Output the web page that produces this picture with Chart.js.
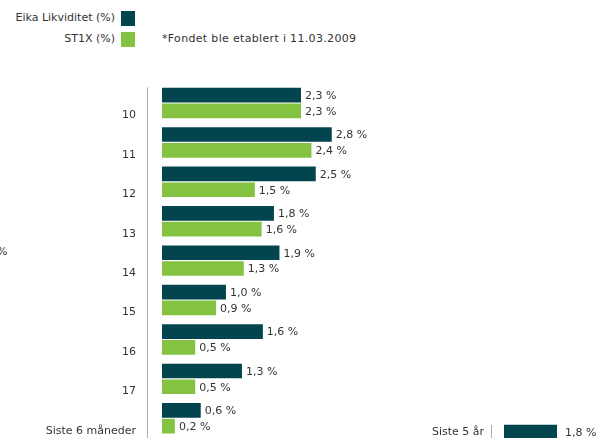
<!DOCTYPE html>
<html>
<head>
<meta charset="utf-8">
<script src="https://cdn.jsdelivr.net/npm/chart.js@4"></script>
<style>
    html,body{margin:0;padding:0;width:597px;height:438px;overflow:hidden;background:#fff;
        font-family:"DejaVu Sans",sans-serif;font-size:11px;color:#333}
    .abs{position:absolute}
    .swatch{position:absolute;width:14px;height:15px}
    .lbl{position:absolute;line-height:14px;white-space:nowrap}
</style>
</head>
<body>

<!-- legend -->
<div class="lbl" style="left:0;width:115px;text-align:right;top:11px">Eika Likviditet (%)</div>
<div class="swatch" style="left:121px;top:11px;background:#02454f"></div>
<div class="lbl" style="left:0;width:115px;text-align:right;top:32px">ST1X (%)</div>
<div class="swatch" style="left:121px;top:32px;background:#84c341"></div>
<div class="lbl" style="left:162px;top:32px;letter-spacing:0.33px">*Fondet ble etablert i 11.03.2009</div>
<div class="lbl" style="left:-3px;top:245px">%</div>

<div class="abs" style="left:0;top:0;width:597px;height:438px"><canvas id="mainChart"></canvas></div>
<div class="abs" style="left:400px;top:424px;width:197px;height:16px"><canvas id="fiveYearChart"></canvas></div>

<script>
// Data
const categories = ['10','11','12','13','14','15','16','17','Siste 6 måneder'];
const eikaValues = [2.26, 2.76, 2.50, 1.82, 1.91, 1.04, 1.64, 1.30, 0.63];
const st1xValues = [2.26, 2.43, 1.51, 1.62, 1.33, 0.88, 0.54, 0.54, 0.21];

const fiveYearCategories = ['Siste 5 år'];
const fiveYearValues = [1.8];

const DARK = '#02454f';
const GREEN = '#84c341';
const AXIS = '#b5aba3';
const FONT = {family:'"DejaVu Sans", sans-serif', size:11};

// verdietiketter til høyre for stolpene
const valueLabels = {
    id:'valueLabels',
    afterDatasetsDraw(chart, args, opts){
        const ctx = chart.ctx;
        ctx.save();
        ctx.font = '11px "DejaVu Sans", sans-serif';
        ctx.fillStyle = '#333';
        ctx.textAlign = 'left';
        ctx.textBaseline = 'middle';
        chart.data.datasets.forEach((ds, i)=>{
            chart.getDatasetMeta(i).data.forEach((bar, j)=>{
                const txt = ds.data[j].toFixed(1).replace('.', ',') + ' %';
                ctx.fillText(txt, bar.x + (opts.gap || 4), bar.y + 1);
            });
        });
        ctx.restore();
    }
};

// akselinje langs venstre kant av plottet, litt nedtrukket i toppen
const axisLine = {
    id:'axisLine',
    beforeDatasetsDraw(chart, args, opts){
        const {ctx, chartArea} = chart;
        const x = Math.round(chartArea.left) - 0.5;
        ctx.save();
        ctx.strokeStyle = AXIS;
        ctx.lineWidth = 1;
        ctx.beginPath();
        ctx.moveTo(x, chartArea.top + (opts.inset || 0));
        ctx.lineTo(x, chartArea.bottom);
        ctx.stroke();
        ctx.restore();
    }
};

function axisRange(pxPerUnit, startGap, width){
    const min = -startGap / pxPerUnit;
    return {min:min, max:min + width / pxPerUnit};
}

// fast bredde på y-aksen, ingen ekstra luft over/under
function fixedAxis(width){
    return (s)=>{ s.width = width; s.paddingTop = 0; s.paddingBottom = 0; };
}

// Hovedgraf
const mainRange = axisRange(61.5, 14, 597 - 148);
new Chart(document.getElementById('mainChart'), {
    type:'bar',
    data:{
        labels:categories,
        datasets:[
            {label:'Eika Likviditet (%)', data:eikaValues, backgroundColor:DARK, categoryPercentage:0.8, barPercentage:0.93},
            {label:'ST1X (%)', data:st1xValues, backgroundColor:GREEN, categoryPercentage:0.8, barPercentage:0.93}
        ]
    },
    options:{
        indexAxis:'y',
        responsive:true, maintainAspectRatio:false, animation:false,
        layout:{padding:{top:83.3, left:0, right:0, bottom:0}},
        plugins:{legend:{display:false}, tooltip:{enabled:false}, valueLabels:{gap:4}, axisLine:{inset:4}},
        scales:{
            x:{display:false, min:mainRange.min, max:mainRange.max},
            y:{
                afterFit:fixedAxis(148),
                grid:{display:false, drawTicks:false},
                border:{display:false},
                ticks:{color:'#333', font:FONT, padding:12, labelOffset:12.5}
            }
        }
    },
    plugins:[axisLine, valueLabels]
});

// Siste 5 år
const fiveRange = axisRange(53 / 1.8, 12, 197 - 92);
new Chart(document.getElementById('fiveYearChart'), {
    type:'bar',
    data:{
        labels:fiveYearCategories,
        datasets:[{data:fiveYearValues, backgroundColor:DARK, categoryPercentage:1, barPercentage:0.9}]
    },
    options:{
        indexAxis:'y',
        responsive:true, maintainAspectRatio:false, animation:false,
        layout:{padding:0},
        plugins:{legend:{display:false}, tooltip:{enabled:false}, valueLabels:{gap:8}, axisLine:{inset:1}},
        scales:{
            x:{display:false, min:fiveRange.min, max:fiveRange.max},
            y:{
                afterFit:fixedAxis(92),
                grid:{display:false, drawTicks:false},
                border:{display:false},
                ticks:{color:'#333', font:FONT, padding:8}
            }
        }
    },
    plugins:[axisLine, valueLabels]
});
</script>
</body>
</html>
